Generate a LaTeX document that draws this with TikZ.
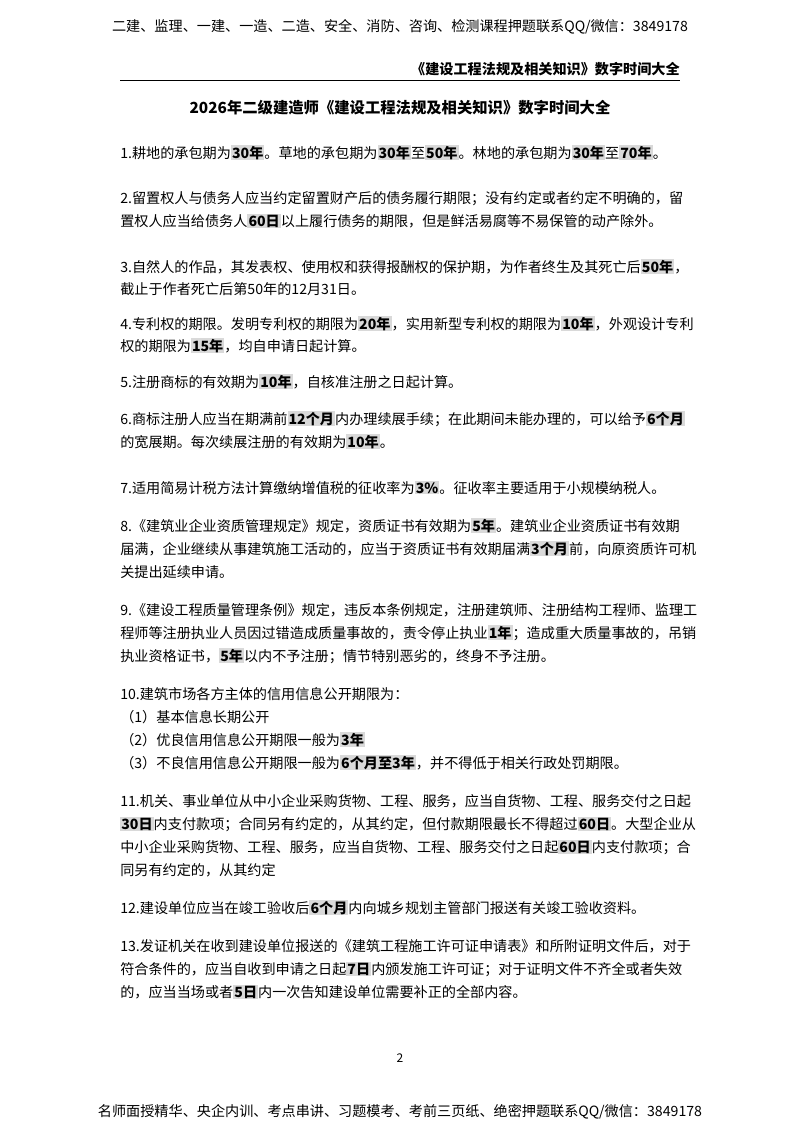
\documentclass[tikz,border=0pt]{standalone}
\usepackage{fontspec}
\setmainfont{Noto Sans CJK SC}
\newcommand{\hl}[1]{{\setlength\fboxsep{0.8pt}\colorbox{black!15}{\bfseries #1}}}
\begin{document}
\begin{tikzpicture}[x=0.75pt,y=-0.75pt,
  ln/.style={anchor=base west,inner sep=0pt,font=\fontsize{10.6}{12}\selectfont}]
\useasboundingbox (0,0) rectangle (800,1132);
\fill[white] (0,0) rectangle (800,1132);
\node[anchor=base,inner sep=0pt,font=\fontsize{10.6}{12}\selectfont] (h1) at (400,31) {二建、监理、一建、一造、二造、安全、消防、咨询、检测课程押题联系QQ/微信：3849178};
\node[anchor=base east,inner sep=0pt,font=\fontsize{10.6}{12}\selectfont\bfseries] (h2) at (680,74) {《建设工程法规及相关知识》数字时间大全};
\coordinate (ra) at (120,80); \coordinate (rb) at (680,80);
\draw[line width=0.6pt] (ra) -- (rb);
\node[anchor=base,inner sep=0pt,font=\fontsize{11.5}{13}\selectfont\bfseries] (t) at (400,113) {2026年二级建造师《建设工程法规及相关知识》数字时间大全};
\node[ln] (l1) at (120,158) {1.耕地的承包期为\hl{30年}。草地的承包期为\hl{30年}至\hl{50年}。林地的承包期为\hl{30年}至\hl{70年}。};
\node[ln] (l2a) at (120,203) {2.留置权人与债务人应当约定留置财产后的债务履行期限；没有约定或者约定不明确的，留};
\node[ln] (l2b) at (120,226) {置权人应当给债务人\hl{60日}以上履行债务的期限，但是鲜活易腐等不易保管的动产除外。};
\node[ln] (l3a) at (120,272) {3.自然人的作品，其发表权、使用权和获得报酬权的保护期，为作者终生及其死亡后\hl{50年}，};
\node[ln] (l3b) at (120,294) {截止于作者死亡后第50年的12月31日。};
\node[ln] (l4a) at (120,329) {4.专利权的期限。发明专利权的期限为\hl{20年}，实用新型专利权的期限为\hl{10年}，外观设计专利};
\node[ln] (l4b) at (120,351) {权的期限为\hl{15年}，均自申请日起计算。};
\node[ln] (l5) at (120,387) {5.注册商标的有效期为\hl{10年}，自核准注册之日起计算。};
\node[ln] (l6a) at (120,424) {6.商标注册人应当在期满前\hl{12个月}内办理续展手续；在此期间未能办理的，可以给予\hl{6个月}};
\node[ln] (l6b) at (120,447) {的宽展期。每次续展注册的有效期为\hl{10年}。};
\node[ln] (l7) at (120,493) {7.适用简易计税方法计算缴纳增值税的征收率为\hl{3\%}。征收率主要适用于小规模纳税人。};
\node[ln] (l8a) at (120,531) {8.《建筑业企业资质管理规定》规定，资质证书有效期为\hl{5年}。建筑业企业资质证书有效期};
\node[ln] (l8b) at (120,554) {届满，企业继续从事建筑施工活动的，应当于资质证书有效期届满\hl{3个月}前，向原资质许可机};
\node[ln] (l8c) at (120,577) {关提出延续申请。};
\node[ln] (l9a) at (120,615) {9.《建设工程质量管理条例》规定，违反本条例规定，注册建筑师、注册结构工程师、监理工};
\node[ln] (l9b) at (120,638) {程师等注册执业人员因过错造成质量事故的，责令停止执业\hl{1年}；造成重大质量事故的，吊销};
\node[ln] (l9c) at (120,661) {执业资格证书，\hl{5年}以内不予注册；情节特别恶劣的，终身不予注册。};
\node[ln] (l10a) at (120,699) {10.建筑市场各方主体的信用信息公开期限为：};
\node[ln] (l10b) at (120,722) {（1）基本信息长期公开};
\node[ln] (l10c) at (120,745) {（2）优良信用信息公开期限一般为\hl{3年}};
\node[ln] (l10d) at (120,768) {（3）不良信用信息公开期限一般为\hl{6个月至3年}，并不得低于相关行政处罚期限。};
\node[ln] (l11a) at (120,806) {11.机关、事业单位从中小企业采购货物、工程、服务，应当自货物、工程、服务交付之日起};
\node[ln] (l11b) at (120,829) {\hl{30日}内支付款项；合同另有约定的，从其约定，但付款期限最长不得超过\hl{60日}。大型企业从};
\node[ln] (l11c) at (120,852) {中小企业采购货物、工程、服务，应当自货物、工程、服务交付之日起\hl{60日}内支付款项；合};
\node[ln] (l11d) at (120,875) {同另有约定的，从其约定};
\node[ln] (l12) at (120,913) {12.建设单位应当在竣工验收后\hl{6个月}内向城乡规划主管部门报送有关竣工验收资料。};
\node[ln] (l13a) at (120,951) {13.发证机关在收到建设单位报送的《建筑工程施工许可证申请表》和所附证明文件后，对于};
\node[ln] (l13b) at (120,974) {符合条件的，应当自收到申请之日起\hl{7日}内颁发施工许可证；对于证明文件不齐全或者失效};
\node[ln] (l13c) at (120,997) {的，应当当场或者\hl{5日}内一次告知建设单位需要补正的全部内容。};
\node[anchor=base,inner sep=0pt,font=\fontsize{9}{10}\selectfont] (pg) at (400,1062) {2};
\node[anchor=base,inner sep=0pt,font=\fontsize{10.6}{12}\selectfont] (f) at (400,1116) {名师面授精华、央企内训、考点串讲、习题模考、考前三页纸、绝密押题联系QQ/微信：3849178};
\end{tikzpicture}
\end{document}
